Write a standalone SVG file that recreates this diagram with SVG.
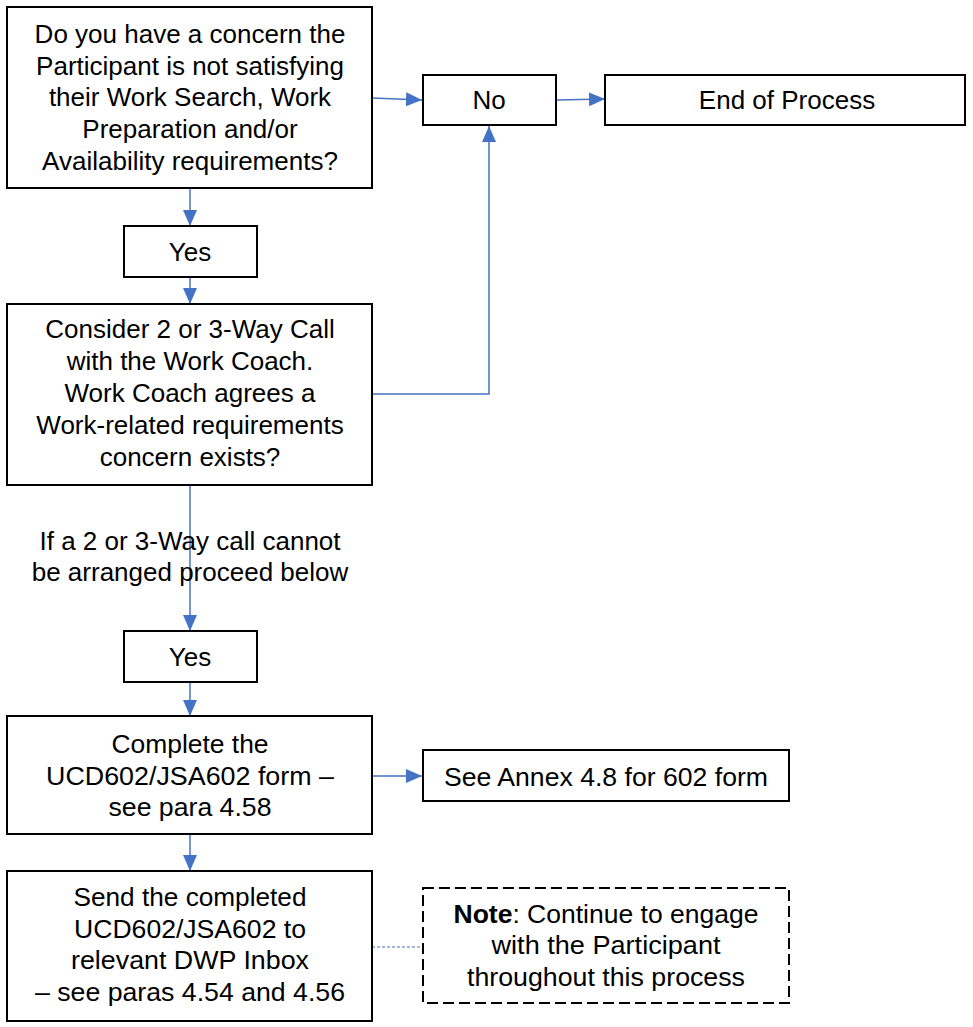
<svg xmlns="http://www.w3.org/2000/svg" width="973" height="1027" viewBox="0 0 973 1027">
<defs>
<style>
.box{fill:#fff;stroke:#000;stroke-width:2}
.dash{fill:#fff;stroke:#000;stroke-width:2;stroke-dasharray:11,5}
.t{font-family:"Liberation Sans",Arial,sans-serif;font-size:26px;fill:#000;text-anchor:middle}
.n{font-family:"Liberation Sans",Arial,sans-serif;font-size:26px;fill:#000;text-anchor:middle}
.c{fill:none;stroke:#4472C4;stroke-width:1.5}
.cd{fill:none;stroke:#4472C4;stroke-width:1.2;stroke-dasharray:3,2}
</style>
<marker id="ah" markerUnits="userSpaceOnUse" markerWidth="16" markerHeight="14" refX="16" refY="7" orient="auto">
<path d="M0,0 L16,7 L0,14 Z" fill="#4472C4"/>
</marker>
</defs>
<g id="connectors">
<path class="c" d="M372,98 L422,100" marker-end="url(#ah)"/>
<path class="c" d="M556,100 L605,99" marker-end="url(#ah)"/>
<path class="c" d="M190,188 L190,226" marker-end="url(#ah)"/>
<path class="c" d="M190,278 L190,304" marker-end="url(#ah)"/>
<path class="c" d="M372,394 L489,394 L489,126" marker-end="url(#ah)"/>
<path class="c" d="M190,485 L190,631" marker-end="url(#ah)"/>
<path class="c" d="M190,682 L190,716" marker-end="url(#ah)"/>
<path class="c" d="M372,776 L422,776" marker-end="url(#ah)"/>
<path class="c" d="M190,835 L190,871" marker-end="url(#ah)"/>
<path class="cd" d="M372,947 L423,947"/>
</g>
<g id="q1">
<rect class="box" x="7" y="7" width="365" height="181"/>
<text class="t" x="190" y="43">Do you have a concern the</text>
<text class="t" x="190" y="75">Participant is not satisfying</text>
<text class="t" x="190" y="106">their Work Search, Work</text>
<text class="t" x="190" y="138">Preparation and/or</text>
<text class="t" x="190" y="170">Availability requirements?</text>
</g>
<g id="no">
<rect class="box" x="423" y="75" width="133" height="50"/>
<text class="t" x="489" y="109">No</text>
</g>
<g id="end">
<rect class="box" x="605" y="75" width="360" height="50"/>
<text class="t" x="787" y="109">End of Process</text>
</g>
<g id="yes1">
<rect class="box" x="124" y="226" width="133" height="51"/>
<text class="t" x="190" y="261">Yes</text>
</g>
<g id="q2">
<rect class="box" x="7" y="304" width="365" height="181"/>
<text class="t" x="190" y="338">Consider 2 or 3-Way Call</text>
<text class="t" x="190" y="370">with the Work Coach.</text>
<text class="t" x="190" y="402">Work Coach agrees a</text>
<text class="t" x="190" y="434">Work-related requirements</text>
<text class="t" x="190" y="466">concern exists?</text>
</g>
<g id="label">
<text class="t" x="190" y="550">If a 2 or 3-Way call cannot</text>
<text class="t" x="190" y="581">be arranged proceed below</text>
</g>
<g id="yes2">
<rect class="box" x="124" y="631" width="133" height="51"/>
<text class="t" x="190" y="666">Yes</text>
</g>
<g id="complete">
<rect class="box" x="7" y="716" width="365" height="118"/>
<text class="n" x="190" y="753" textLength="157" lengthAdjust="spacingAndGlyphs">Complete  the</text>
<text class="n" x="190" y="785" textLength="288" lengthAdjust="spacingAndGlyphs">UCD602/JSA602 form –</text>
<text class="n" x="190" y="816" textLength="163" lengthAdjust="spacingAndGlyphs">see para 4.58</text>
</g>
<g id="annex">
<rect class="box" x="423" y="750" width="366" height="51"/>
<text class="n" x="606" y="786" textLength="324" lengthAdjust="spacingAndGlyphs">See Annex  4.8 for 602 form</text>
</g>
<g id="send">
<rect class="box" x="7" y="871" width="365" height="150"/>
<text class="n" x="190" y="906" textLength="233" lengthAdjust="spacingAndGlyphs">Send the completed</text>
<text class="n" x="190" y="938" textLength="232" lengthAdjust="spacingAndGlyphs">UCD602/JSA602 to</text>
<text class="n" x="190" y="969" textLength="238" lengthAdjust="spacingAndGlyphs">relevant DWP Inbox</text>
<text class="n" x="190" y="1001" textLength="310" lengthAdjust="spacingAndGlyphs">– see paras 4.54 and 4.56</text>
</g>
<g id="note">
<rect class="dash" x="423" y="888" width="366" height="115"/>
<text class="n" x="606" y="923" textLength="305" lengthAdjust="spacingAndGlyphs"><tspan font-weight="bold">Note</tspan>: Continue to engage</text>
<text class="n" x="606" y="954" textLength="229" lengthAdjust="spacingAndGlyphs">with the Participant</text>
<text class="n" x="606" y="986" textLength="278" lengthAdjust="spacingAndGlyphs">throughout this process</text>
</g>
</svg>
